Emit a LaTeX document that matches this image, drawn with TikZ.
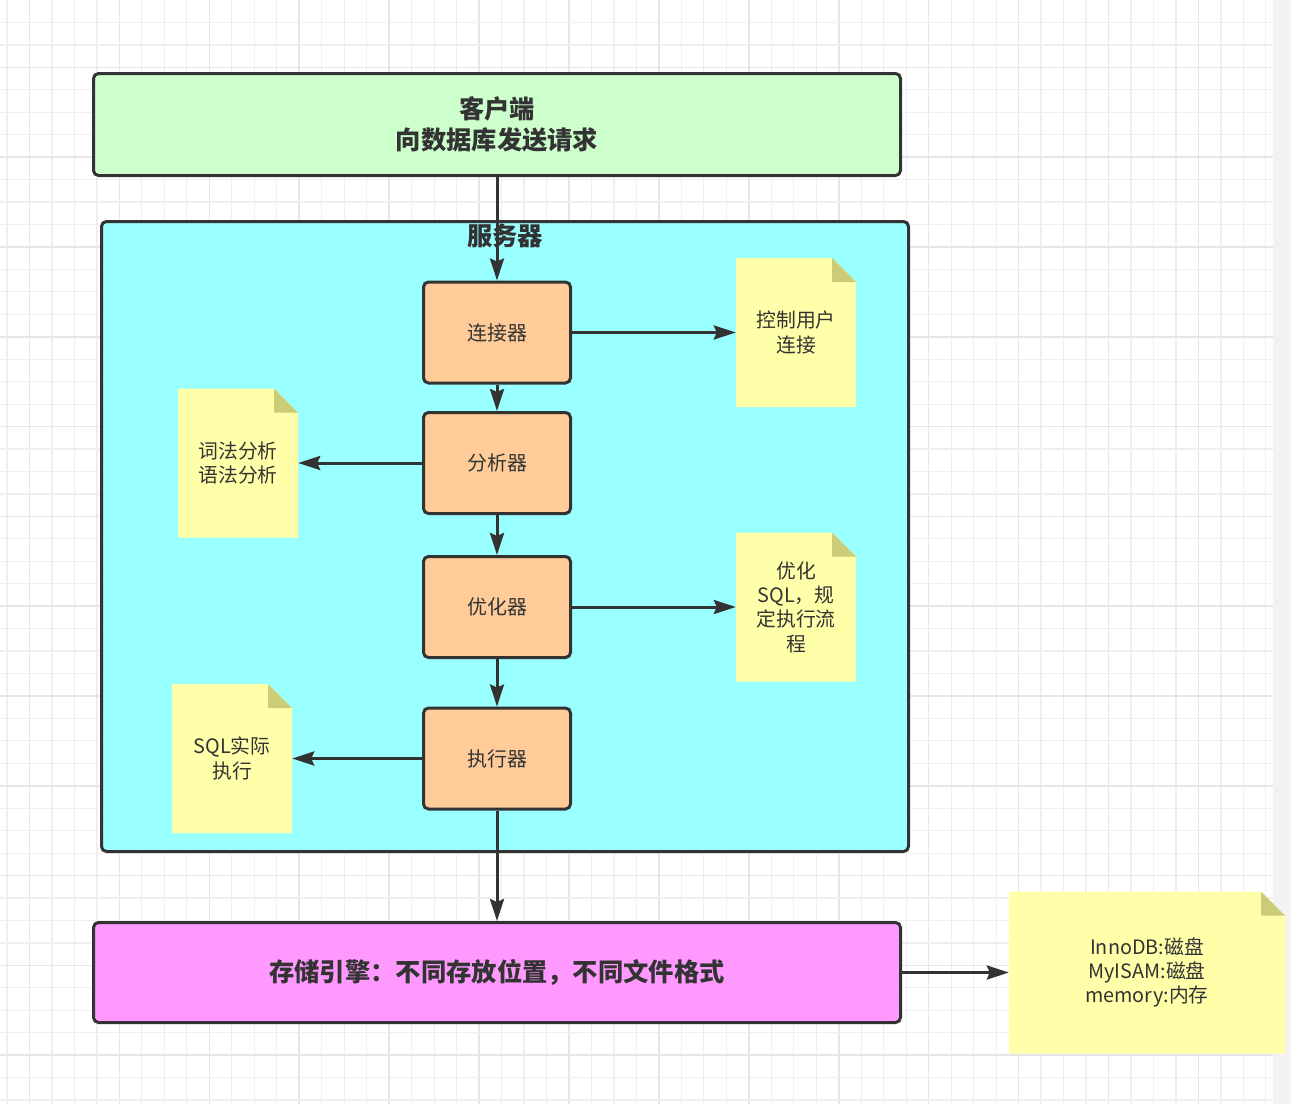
\documentclass[tikz,border=0pt]{standalone}
\usepackage{fontspec}
\setmainfont{Noto Sans CJK SC}
\usetikzlibrary{arrows.meta}
\definecolor{clientfill}{HTML}{CCFFCC}
\definecolor{serverfill}{HTML}{99FFFF}
\definecolor{procfill}{HTML}{FFCC99}
\definecolor{storefill}{HTML}{FF99FF}
\definecolor{notefill}{HTML}{FFFFAA}
\definecolor{foldfill}{HTML}{CCCC77}
\definecolor{edge}{HTML}{333333}
\definecolor{gridthin}{HTML}{EFEFEF}
\definecolor{gridthick}{HTML}{E6E6E6}
\definecolor{stripfill}{HTML}{F2F2F2}
\tikzset{
  bigbox/.style={draw=edge, line width=3pt, rounded corners=5pt, minimum width=807pt, text=edge, align=center, font=\fontsize{25.3}{31}\selectfont\bfseries},
  procbox/.style={draw=edge, fill=procfill, line width=3pt, rounded corners=5pt, minimum width=147pt, minimum height=101pt, text=edge, font=\fontsize{20}{24}\selectfont},
  notebox/.style={minimum width=#1, inner sep=0pt, text=edge, align=center, font=\fontsize{19.8}{24.3}\selectfont,
    path picture={
      \fill[notefill] (path picture bounding box.south west) -- (path picture bounding box.north west)
        -- ([xshift=-24pt]path picture bounding box.north east) -- ([yshift=-24pt]path picture bounding box.north east)
        -- (path picture bounding box.south east) -- cycle;
      \fill[foldfill] ([xshift=-24pt]path picture bounding box.north east) -- ([yshift=-24pt]path picture bounding box.north east)
        -- ([xshift=-24pt,yshift=-24pt]path picture bounding box.north east) -- cycle;
    }},
  link/.style={draw=edge, line width=3pt, -{Stealth[length=22pt, width=14pt, inset=3pt]}},
}
\begin{document}
\begin{tikzpicture}[x=1pt, y=-1pt]
\useasboundingbox (0,0) rectangle (1291,1104);
% background grid
\fill[white] (0,0) rectangle (1273,1104);
\fill[stripfill] (1273,0) rectangle (1291,1104);
\foreach \k in {0,...,56} {
  \pgfmathtruncatemacro{\m}{mod(\k,4)}
  \ifnum\m=1
    \draw[gridthick, line width=1.5pt] ({7+22.48*\k},0) -- ({7+22.48*\k},1104);
  \else
    \draw[gridthin, line width=1.2pt] ({7+22.48*\k},0) -- ({7+22.48*\k},1104);
  \fi
}
\foreach \k in {1,...,49} {
  \pgfmathtruncatemacro{\m}{mod(\k,4)}
  \ifnum\m=3
    \draw[gridthick, line width=1.5pt] (0,{22.45*\k}) -- (1273,{22.45*\k});
  \else
    \draw[gridthin, line width=1.2pt] (0,{22.45*\k}) -- (1273,{22.45*\k});
  \fi
}
% main boxes
\node[bigbox, fill=clientfill, minimum height=102pt] (client) at (497,124.5) {客户端\\向数据库发送请求};
\node[draw=edge, fill=serverfill, line width=3pt, rounded corners=5pt, minimum width=807pt, minimum height=630pt] (server) at (505,536.5) {};
\node[text=edge, font=\fontsize{25.3}{30}\selectfont\bfseries] (srvlabel) at (505,236) {服务器};
\node[bigbox, fill=storefill, minimum height=100pt] (store) at (497,972.5) {存储引擎：不同存放位置，不同文件格式};
% process boxes
\node[procbox] (conn) at (497,332.5) {连接器};
\node[procbox] (anal) at (497,463) {分析器};
\node[procbox] (opt) at (497,607) {优化器};
\node[procbox] (exec) at (497,758.5) {执行器};
% notes
\node[notebox=120pt, minimum height=149pt] (nconn) at (796,332.5) {控制用户\\连接};
\node[notebox=120pt, minimum height=149pt] (nanal) at (238,463) {词法分析\\语法分析};
\node[notebox=120pt, minimum height=149pt] (nopt) at (796,607) {优化\\SQL，规\\定执行流\\程};
\node[notebox=120pt, minimum height=149pt] (nexec) at (232,758.5) {SQL实际\\执行};
\node[notebox=276pt, minimum height=162pt] (nstore) at (1147,972.5) {InnoDB:磁盘\\MyISAM:磁盘\\memory:内存};
% connectors
\draw[link] (client.south) -- (conn.north);
\draw[link] (conn.south) -- (anal.north);
\draw[link] (anal.south) -- (opt.north);
\draw[link] (opt.south) -- (exec.north);
\draw[link] (exec.south) -- (store.north);
\draw[link] (conn.east) -- (nconn.west);
\draw[link] (anal.west) -- (nanal.east);
\draw[link] (opt.east) -- (nopt.west);
\draw[link] (exec.west) -- (nexec.east);
\draw[link] (store.east) -- (nstore.west);
\end{tikzpicture}
\end{document}
